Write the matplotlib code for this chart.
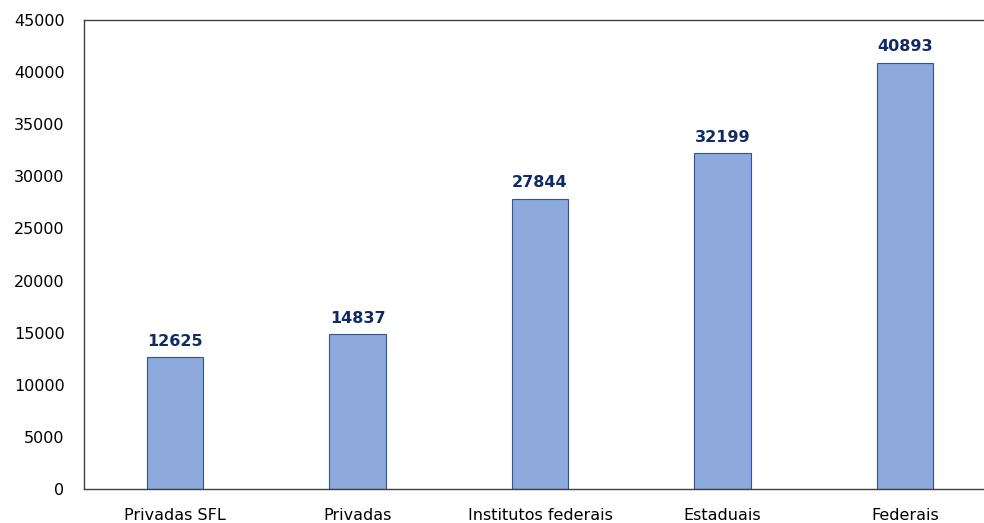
import matplotlib
matplotlib.use("Agg")
import matplotlib.pyplot as plt

categories = ["Privadas SFL", "Privadas", "Institutos federais", "Estaduais", "Federais"]
values = [12625, 14837, 27844, 32199, 40893]
yticks = [0, 5000, 10000, 15000, 20000, 25000, 30000, 35000, 40000, 45000]

plt.rcParams['font.family'] = ['DejaVu Sans']
fig = plt.figure(figsize=(9.84, 5.23), dpi=100)
ax = fig.add_axes([84/984, 1 - 489/523, 912/984, (489-20)/523])

x = range(len(categories))
bars = ax.bar(x, values, width=0.31, color="#8EA9DB", edgecolor="#2F5597", linewidth=0.8)
for xi, v in zip(x, values):
    ax.annotate(str(v), (xi, v), xytext=(0, 6), textcoords="offset points",
                ha="center", va="bottom", fontsize=11.5, fontweight="bold", color="#102A66")

ax.set_xlim(-0.5, len(categories) - 0.5)
ax.set_ylim(0, 45000)
ax.set_yticks(yticks)
ax.set_yticklabels([str(t) for t in yticks])
ax.set_xticks(list(x))
ax.set_xticklabels(categories)
ax.tick_params(axis="both", length=0, labelsize=11.5, colors="#000000")
ax.tick_params(axis="y", pad=14)
ax.tick_params(axis="x", pad=14)
for s in ["left", "top", "bottom"]:
    ax.spines[s].set_color("#404040")
    ax.spines[s].set_linewidth(1.0)
ax.spines["right"].set_visible(False)

fig.savefig("out.png", dpi=100)
